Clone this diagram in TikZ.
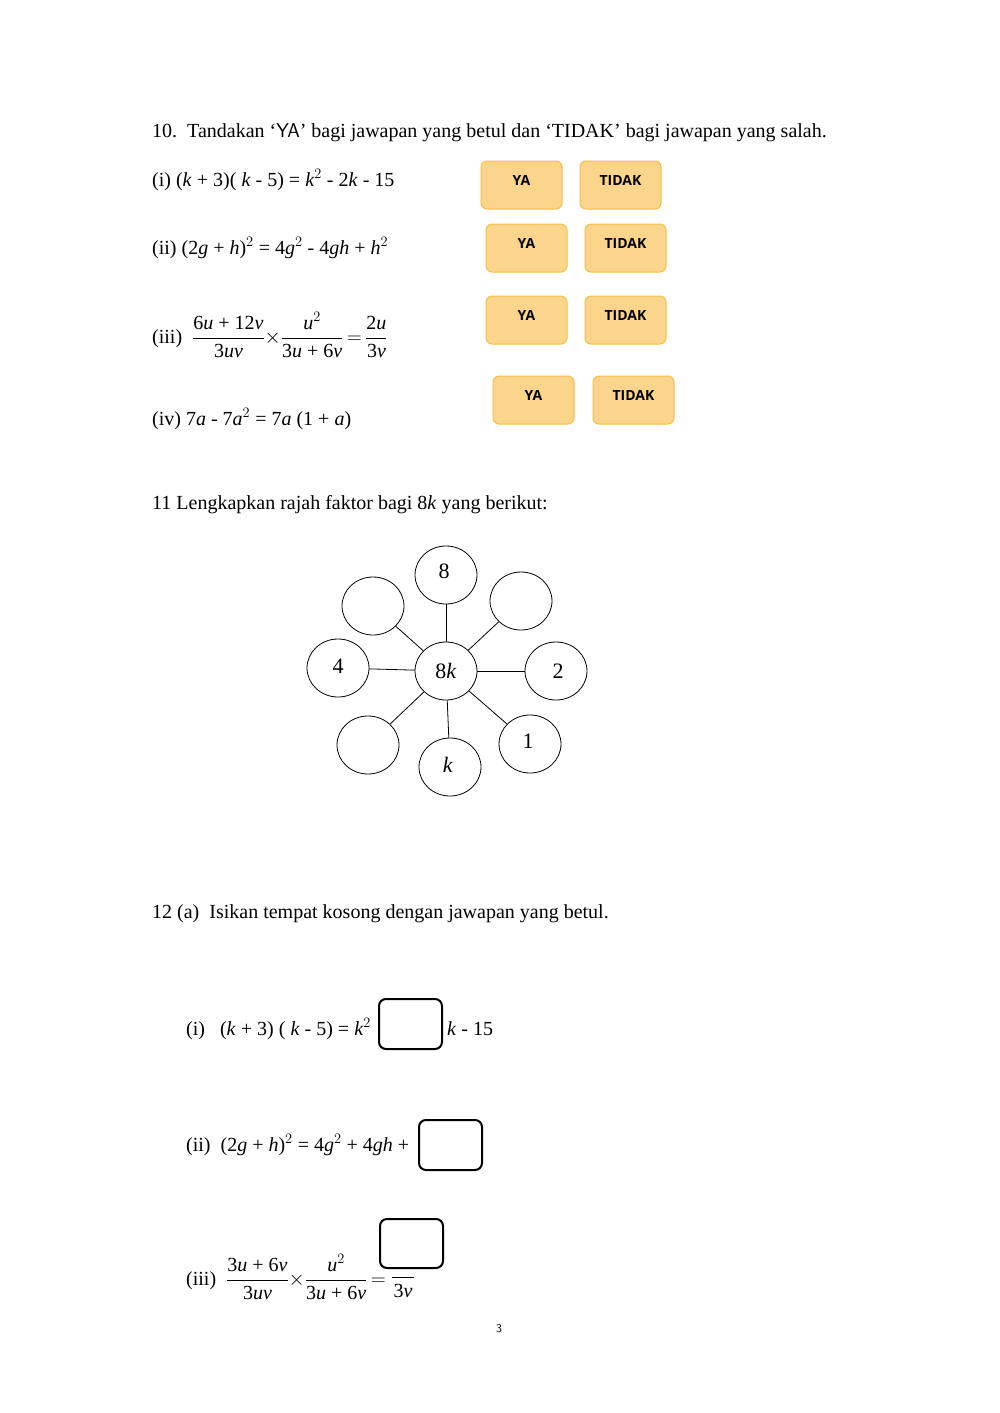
\documentclass[tikz,border=0pt]{standalone}
\usepackage{amsmath}
\usepackage{fontspec}
\setmainfont{Liberation Serif}
\newfontfamily\btnfont{Open Sans}
\usetikzlibrary{shapes.geometric}
\definecolor{btnfill}{RGB}{251,213,140}
\definecolor{btnedge}{RGB}{245,190,70}
\newcommand{\ti}[1]{\textit{#1}}
\newcommand{\tf}[2]{\dfrac{\text{#1}}{\text{#2}}}
\begin{document}
\begin{tikzpicture}[x=1pt,y=-1pt,
  txt/.style={anchor=west,inner sep=0,font=\fontsize{20}{23}\selectfont},
  btn/.style={draw=btnedge,fill=btnfill,rounded corners=6pt,line width=1pt},
  btnlbl/.style={font=\btnfont\bfseries\fontsize{14}{16}\selectfont},
  circ/.style={draw,ellipse,minimum width=62pt,minimum height=58pt,line width=0.8pt,font=\fontsize{22}{24}\selectfont},
  blank/.style={draw,rounded corners=7pt,line width=2pt}]
\useasboundingbox (0,0) rectangle (1000,1413);
\node[txt] (q10) at (152,133) {10.\ \ Tandakan ‘\textsf{YA}’ bagi jawapan yang betul dan ‘TIDAK’ bagi jawapan yang salah.};
\node[txt] (a1) at (152,180) {(i) (\ti{k} + 3)( \ti{k} - 5) = \ti{k}$^2$ - 2\ti{k} - 15};
\node[txt] (a2) at (152,248) {(ii) (2\ti{g} + \ti{h})$^2$ = 4\ti{g}$^2$ - 4\ti{gh} + \ti{h}$^2$};
\node[txt] (a3) at (152,335) {(iii)\ \ ${\tf{6\ti{u} + 12\ti{v}}{3\ti{uv}}}{\times}{\tf{\ti{u}$^2$}{3\ti{u} + 6\ti{v}}}\,{=}\,{\tf{2\ti{u}}{3\ti{v}}}$};
\node[txt] (a4) at (152,419) {(iv) 7\ti{a} - 7\ti{a}$^2$ = 7\ti{a} (1 + \ti{a})};
% buttons
\foreach \n/\xa/\xb/\ya in {1/481/580/161, 2/486/585/224, 3/486/585/296, 4/493/593/376}{
  \draw[btn] (\xa,\ya) rectangle ++(81,48);
  \draw[btn] (\xb,\ya) rectangle ++(81,48);
  \node[btnlbl] (ya\n) at (\xa+40.5,\ya+19) {YA};
  \node[btnlbl] (td\n) at (\xb+40.5,\ya+19) {TIDAK};
}
\node[txt] (q11) at (152,505) {11 Lengkapkan rajah faktor bagi 8\ti{k} yang berikut:};
% factor diagram
\node[circ] (c) at (446,671) {8\ti{k}};
\node[circ] (n8) at (446,575) {};
\node at (444,571) {\fontsize{22}{24}\selectfont 8};
\node[circ] (tl) at (373,606) {};
\node[circ] (tr) at (521,601) {};
\node[circ] (n4) at (338,668) {};
\node at (338,666) {\fontsize{22}{24}\selectfont 4};
\node[circ] (n2) at (556,671) {};
\node at (558,671) {\fontsize{22}{24}\selectfont 2};
\node[circ] (bl) at (368,745) {};
\node[circ] (nk) at (450,767) {};
\node at (448,765) {\fontsize{22}{24}\selectfont\ti{k}};
\node[circ] (n1) at (530,744) {};
\node at (528,741) {\fontsize{22}{24}\selectfont 1};
\foreach \t in {n8,tl,tr,n4,n2,bl,nk,n1}{\draw[line width=0.8pt] (c) -- (\t);}
% 12
\node[txt] (q12) at (152,914) {12 (a)\ \ Isikan tempat kosong dengan jawapan yang betul.};
\node[txt] (b1) at (186,1029) {(i)\ \ \ (\ti{k} + 3) ( \ti{k} - 5) = \ti{k}$^2$};
\draw[blank] (379,999) rectangle (442,1049);
\node[txt] (b1b) at (447,1029) {\ti{k} - 15};
\node[txt] (b2) at (186,1145) {(ii)\ \ (2\ti{g} + \ti{h})$^2$ = 4\ti{g}$^2$ + 4\ti{gh} +};
\draw[blank] (419,1120) rectangle (482,1170);
\node[txt] (b3) at (186,1277) {(iii)\ \ ${\tf{3\ti{u} + 6\ti{v}}{3\ti{uv}}}{\times}{\tf{\ti{u}$^2$}{3\ti{u} + 6\ti{v}}}\,{=}$};
\draw[blank] (380,1219) rectangle (443,1268);
\draw[line width=0.6pt] (392,1277) -- (414,1277);
\node[font=\fontsize{20}{23}\selectfont] (v3) at (403,1291) {3\ti{v}};
\node[font=\sffamily\fontsize{12}{14}\selectfont] (pg) at (499,1329) {3};
\end{tikzpicture}
\end{document}
